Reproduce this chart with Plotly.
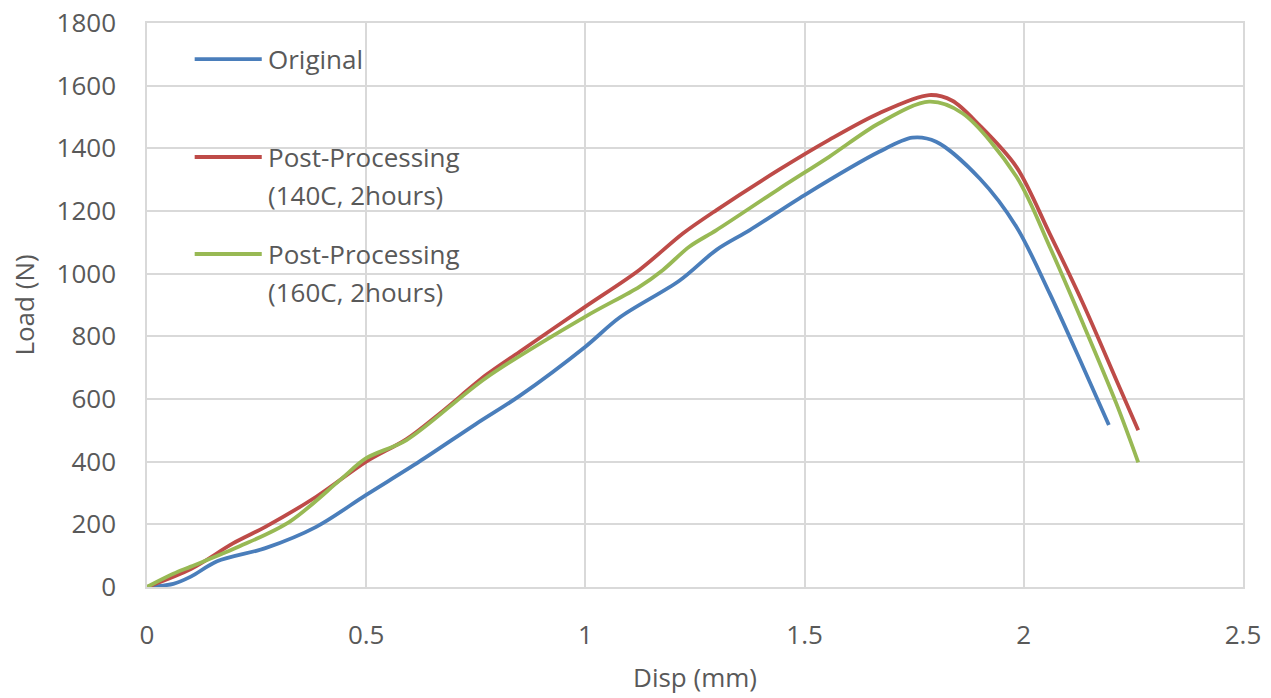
import plotly.graph_objects as go

# Load-displacement curves (Disp in mm, Load in N)
disp_original = [0, 0.06, 0.10, 0.16, 0.27, 0.386, 0.50, 0.621, 0.75, 0.85, 1.0,
                 1.078, 1.215, 1.299, 1.375, 1.50, 1.67, 1.746, 1.80,
                 1.90, 1.983, 2.059, 2.135, 2.194]
load_original = [0, 10, 33, 82, 124, 192, 294, 400, 520, 610, 767,
                 860, 978, 1076, 1139, 1251, 1389, 1434, 1421,
                 1303, 1150, 937, 703, 517]

disp_pp140 = [0, 0.10, 0.196, 0.27, 0.386, 0.50, 0.592, 0.668, 0.774, 0.85, 1.0, 1.123, 1.223, 1.299,
              1.441, 1.556, 1.67, 1.784, 1.837, 1.898, 1.983, 2.059, 2.135, 2.211, 2.261]
load_pp140 = [0, 57, 139, 192, 288, 400, 472, 554, 677, 751, 895, 1012, 1129, 1203,
              1331, 1427, 1512, 1570, 1552, 1475, 1341, 1128, 905, 661, 500]

disp_pp160 = [0, 0.06, 0.10, 0.21, 0.325, 0.44, 0.50, 0.592, 0.774, 1.0, 1.123, 1.177, 1.237,
              1.299, 1.441, 1.556, 1.67, 1.784, 1.86, 1.983, 2.059, 2.135, 2.211, 2.261]
load_pp160 = [0, 42, 65, 129, 208, 341, 411, 469, 668, 863, 958, 1012, 1086,
              1139, 1270, 1373, 1480, 1549, 1512, 1310, 1086, 841, 586, 398]

series_names = ["Original", "Post-Processing (140C, 2hours)", "Post-Processing (160C, 2hours)"]
legend_lines = [["Original"], ["Post-Processing", "(140C, 2hours)"], ["Post-Processing", "(160C, 2hours)"]]
colors = ["#4A7EBB", "#BE4B48", "#98B954"]

x_ticks = [0, 0.5, 1, 1.5, 2, 2.5]
x_tick_labels = ["0", "0.5", "1", "1.5", "2", "2.5"]
y_ticks = list(range(0, 1801, 200))

FONT = "Open Sans"
TEXT_COLOR = "#595959"
GRID = "#D9D9D9"

fig = go.Figure()
for xs, ys, name, c in zip([disp_original, disp_pp140, disp_pp160],
                           [load_original, load_pp140, load_pp160],
                           series_names, colors):
    fig.add_trace(go.Scatter(x=xs, y=ys, mode="lines", name=name,
                             line=dict(color=c, width=3.8, shape="spline", smoothing=0.9),
                             showlegend=False))

# Legend drawn inside the plot area: a key line plus stacked text lines per series
key_y = [0.936, 0.7624, 0.5904]
line_step = 38 / 564
for lines, c, ky in zip(legend_lines, colors, key_y):
    fig.add_shape(type="line", xref="paper", yref="paper",
                  x0=0.0435, x1=0.1047, y0=ky, y1=ky,
                  line=dict(color=c, width=3.8))
    for i, txt in enumerate(lines):
        fig.add_annotation(text=txt, xref="paper", yref="paper",
                           x=0.109, y=ky - i * line_step, xanchor="left", yanchor="middle",
                           showarrow=False, font=dict(family=FONT, size=26, color=TEXT_COLOR))

fig.update_layout(
    width=1271, height=698,
    margin=dict(l=147, r=28, t=23, b=111),
    paper_bgcolor="white", plot_bgcolor="white",
    font=dict(family=FONT, size=26, color=TEXT_COLOR),
)
fig.update_xaxes(
    range=[0, 2.5], tickvals=x_ticks, ticktext=x_tick_labels, automargin=False,
    showgrid=True, gridcolor=GRID, gridwidth=1.5,
    showline=True, linecolor=GRID, linewidth=1.5, mirror=True,
    zeroline=False, ticks="", ticklabelstandoff=24,
    tickfont=dict(family=FONT, size=26, color=TEXT_COLOR),
    title=dict(text="Disp (mm)", standoff=18, font=dict(family=FONT, size=26, color=TEXT_COLOR)),
)
fig.update_yaxes(
    range=[0, 1800], tickvals=y_ticks, automargin=False,
    showgrid=True, gridcolor=GRID, gridwidth=1.5,
    showline=True, linecolor=GRID, linewidth=1.5, mirror=True,
    zeroline=False, ticks="", ticklabelstandoff=24,
    tickfont=dict(family=FONT, size=26, color=TEXT_COLOR),
    title=dict(text="Load (N)", standoff=14, font=dict(family=FONT, size=26, color=TEXT_COLOR)),
)

fig.write_html("out.html")
